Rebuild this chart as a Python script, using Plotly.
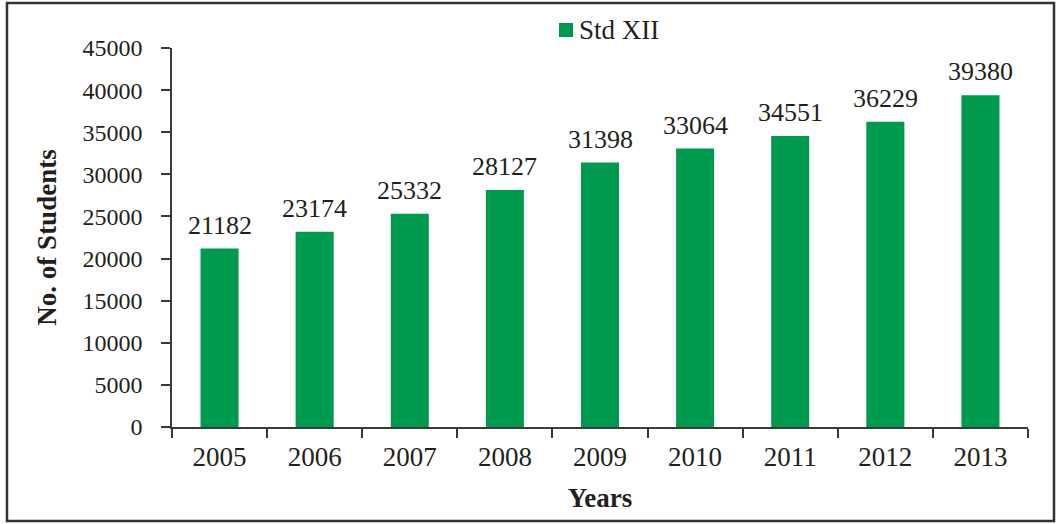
import plotly.graph_objects as go

# chart data
years = ['2005', '2006', '2007', '2008', '2009', '2010', '2011', '2012', '2013']
students = [21182, 23174, 25332, 28127, 31398, 33064, 34551, 36229, 39380]
y_ticks = [0, 5000, 10000, 15000, 20000, 25000, 30000, 35000, 40000, 45000]
series_name = 'Std XII'

W, H = 1058, 524
L, R, T, B = 172, 30, 48, 97
pw, ph = W - L - R, H - T - B

FONT = 'Liberation Serif'
TXT = '#231f20'
AX = '#3a3a3a'
GREEN = '#009a4e'


def px_x(x):
    """pixel column -> paper x"""
    return (x - L) / pw


def px_y(y):
    """pixel row -> paper y"""
    return (H - B - y) / ph


fig = go.Figure(
    go.Bar(
        x=years,
        y=students,
        name=series_name,
        marker=dict(color=GREEN, line=dict(width=0)),
        width=0.4,
        showlegend=False,
    )
)

# value labels above the bars (category index keeps them on the bars)
annotations = [
    dict(x=i, y=v, xref='x', yref='y', text=str(v), showarrow=False,
         yanchor='bottom', yshift=7,
         font=dict(family=FONT, size=26, color=TXT))
    for i, v in enumerate(students)
]
# legend text (drawn by hand so it doesn't push the top margin)
annotations.append(dict(
    x=px_x(577), y=px_y(30), xref='paper', yref='paper',
    xanchor='left', yanchor='middle', showarrow=False,
    text=series_name, font=dict(family=FONT, size=27, color=TXT),
))

shapes = [
    # outer border around the whole chart
    dict(type='rect', xref='paper', yref='paper',
         x0=px_x(7), x1=px_x(1054), y0=px_y(521), y1=px_y(3),
         line=dict(color='#333333', width=2.5),
         fillcolor='rgba(0,0,0,0)', layer='below'),
    # legend swatch
    dict(type='rect', xref='paper', yref='paper',
         x0=px_x(559), x1=px_x(573), y0=px_y(37), y1=px_y(23),
         line=dict(width=0), fillcolor=GREEN),
]

fig.update_layout(
    width=W,
    height=H,
    margin=dict(l=L, r=R, t=T, b=B),
    paper_bgcolor='white',
    plot_bgcolor='white',
    font=dict(family=FONT, size=24, color=TXT),
    showlegend=False,
    xaxis=dict(
        type='category',
        range=[-0.5, len(years) - 0.5],
        showgrid=False,
        showline=True, linecolor=AX, linewidth=1.5,
        ticks='outside', ticklen=9, tickcolor=AX, tickwidth=1.5,
        tickson='boundaries',
        tickangle=0,
        ticklabelstandoff=5,
        tickfont=dict(family=FONT, size=27, color=TXT),
        title=dict(text='<b>Years</b>', font=dict(family=FONT, size=27, color=TXT), standoff=17),
        automargin=False,
    ),
    yaxis=dict(
        range=[0, 45000],
        tickvals=y_ticks,
        ticktext=[str(v) for v in y_ticks],
        showgrid=False, zeroline=False,
        showline=True, linecolor=AX, linewidth=1.5,
        ticks='outside', ticklen=9, tickcolor=AX, tickwidth=1.5,
        ticklabelstandoff=14,
        tickfont=dict(family=FONT, size=24, color=TXT),
        title=dict(text='<b>No. of Students</b>', font=dict(family=FONT, size=27, color=TXT), standoff=18),
        automargin=False,
    ),
    annotations=annotations,
    shapes=shapes,
)

# drop the default page margin so the figure sits at the window's corner
fig.write_html('out.html', config={'displayModeBar': False},
               post_script="document.body.style.margin='0';")
